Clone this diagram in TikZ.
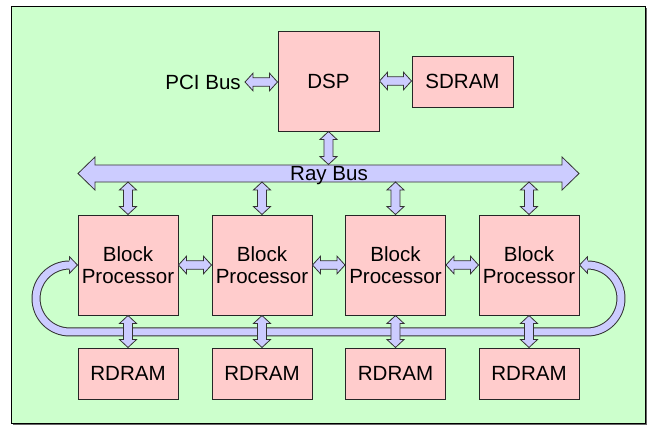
\documentclass[tikz,border=0pt]{standalone}
\usepackage{fontspec}
\setmainfont{Liberation Sans}
\usetikzlibrary{calc}
\definecolor{bggreen}{RGB}{204,255,204}
\definecolor{boxpink}{RGB}{255,204,204}
\definecolor{buslav}{RGB}{204,204,255}
\tikzset{
  boxnode/.style={draw=black!85, line width=0.75pt, fill=boxpink, inner sep=0pt,
    font=\fontsize{15.4}{16.9}\selectfont, align=center},
  plaintext/.style={inner sep=0pt, font=\fontsize{15.4}{16.9}\selectfont},
  barrow/.style={draw=black!80, line width=0.6pt, fill=buslav, line join=miter},
}
% horizontal double block arrow from left point #1 to right point #2
\newcommand\harr[5]{% #1 left, #2 right, #3 shaft half, #4 head half, #5 head length
  \filldraw[barrow] let \p1=(#1), \p2=(#2) in
    (\x1,\y1) -- (\x1+#5,\y1+#4) -- (\x1+#5,\y1+#3) -- (\x2-#5,\y1+#3) -- (\x2-#5,\y1+#4)
    -- (\x2,\y1) -- (\x2-#5,\y1-#4) -- (\x2-#5,\y1-#3) -- (\x1+#5,\y1-#3) -- (\x1+#5,\y1-#4) -- cycle;}
% vertical double block arrow from upper point #1 to lower point #2
\newcommand\varr[2]{%
  \filldraw[barrow] let \p1=(#1), \p2=(#2) in
    (\x1,\y1) -- (\x1+6.4pt,\y1-6pt) -- (\x1+3.4pt,\y1-6pt) -- (\x1+3.4pt,\y2+6pt) -- (\x1+6.4pt,\y2+6pt)
    -- (\x1,\y2) -- (\x1-6.4pt,\y2+6pt) -- (\x1-3.4pt,\y2+6pt) -- (\x1-3.4pt,\y1-6pt) -- (\x1-6.4pt,\y1-6pt) -- cycle;}
\begin{document}
\begin{tikzpicture}[x=0.75pt,y=-0.75pt]
\useasboundingbox (0,0) rectangle (649,426);
% background
\fill[black!60] (13,8) rectangle (646.5,424.5);
\filldraw[fill=bggreen, draw=black, line width=0.75pt] (11,6) rectangle (645,423);

% nodes
\node[boxnode, minimum width=75.75pt, minimum height=75pt] (dsp) at (328.5,81) {DSP};
\node[boxnode, minimum width=75.75pt, minimum height=38.25pt] (sdram) at (462.5,81.5) {SDRAM};
\node[plaintext, anchor=east] (pci) at (241,82) {PCI Bus};

\foreach \i/\x in {1/128,2/262,3/395.5,4/529}{
  \node[boxnode, minimum width=75pt, minimum height=75pt] (bp\i) at (\x,265) {Block\\Processor};
  \node[boxnode, minimum width=75pt, minimum height=38.25pt] (rd\i) at (\x,373.5) {RDRAM};
}

% bus coordinates
\coordinate (busL) at (78,173.5);
\coordinate (busR) at (579,173.5);
\coordinate (busN) at (0,164.5);
\coordinate (busS) at (0,182);

% ring band
\coordinate (ringL) at ([xshift=-6pt]bp1.west);
\coordinate (ringR) at ([xshift=6pt]bp4.east);
\draw[black!80, line width=6.75pt] (ringL) arc[start angle=90, end angle=270, radius=25.1pt]
   -- ([yshift=-50.2pt]ringR) arc[start angle=-90, end angle=90, radius=25.1pt];
\draw[buslav, line width=5.25pt] ([xshift=0.5pt]ringL) -- (ringL) arc[start angle=90, end angle=270, radius=25.1pt]
   -- ([yshift=-50.2pt]ringR) arc[start angle=-90, end angle=90, radius=25.1pt] -- ([xshift=-0.5pt]ringR);
\filldraw[barrow] let \p1=(ringL), \p2=(bp1.west) in
  (\x1,\y1+3.4pt) -- (\x1,\y1+6.2pt) -- (\x2,\y2) -- (\x1,\y1-6.2pt) -- (\x1,\y1-3.4pt);
\filldraw[barrow] let \p1=(ringR), \p2=(bp4.east) in
  (\x1,\y1+3.4pt) -- (\x1,\y1+6.2pt) -- (\x2,\y2) -- (\x1,\y1-6.2pt) -- (\x1,\y1-3.4pt);

% Ray bus
\harr{busL}{busR}{6.4pt}{12.4pt}{12.75pt}
\node[plaintext, anchor=base] (raybus) at (329,180) {Ray Bus};

% arrows
\harr{[xshift=3pt]pci.east}{dsp.west}{3.2pt}{6.6pt}{6pt}
\harr{dsp.east}{sdram.west}{3.2pt}{6.6pt}{6pt}
\varr{dsp.south}{dsp.south |- busN}
\foreach \i in {1,2,3,4}{
  \varr{bp\i.north |- busS}{bp\i.north}
  \varr{bp\i.south}{rd\i.north}
}
\harr{bp1.east}{bp2.west}{3.2pt}{6.6pt}{6pt}
\harr{bp2.east}{bp3.west}{3.2pt}{6.6pt}{6pt}
\harr{bp3.east}{bp4.west}{3.2pt}{6.6pt}{6pt}
\end{tikzpicture}
\end{document}
